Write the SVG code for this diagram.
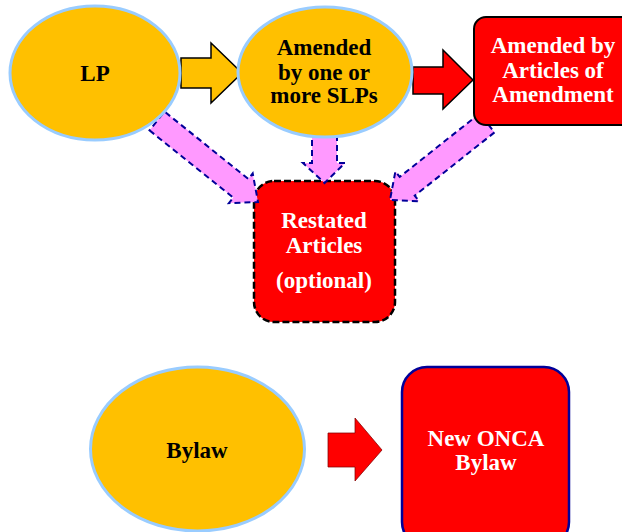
<svg xmlns="http://www.w3.org/2000/svg" width="622" height="532" viewBox="0 0 622 532">
<style>
.ell{fill:#ffc000;stroke:#99ccff;stroke-width:3}
.tb{font-family:"Liberation Serif","Times New Roman",serif;font-weight:bold;font-size:23px;text-anchor:middle}
.blk{fill:#000}
.wht{fill:#fff}
.pink{fill:#ff99ff;stroke:#000099;stroke-width:2;stroke-dasharray:6,4}
</style>
<rect width="622" height="532" fill="#fff"/>
<g id="restated">
<rect x="254" y="181" width="141" height="141" rx="20" fill="#ff0000" stroke="#000" stroke-width="2.5" stroke-dasharray="7,3"/>
<text class="tb wht" x="324" y="228">Restated</text>
<text class="tb wht" x="324" y="253">Articles</text>
<text class="tb wht" x="324" y="288">(optional)</text>
</g>
<g id="connectors">
<polygon class="pink" points="149.5,130.4 233.3,197.6 228.9,203.1 258,202 252.7,173.4 248.3,178.9 164.5,111.6"/>
<polygon class="pink" points="312,130 337,130 337,163 345,163 324.5,183 303,163 312,163"/>
<polygon class="pink" points="494.5,132.4 414.7,195.7 419,201.2 390,200 395.4,171.4 399.7,176.9 479.5,113.6"/>
<polygon points="181,58 211,58 211,43 242,73 211,103 211,88 181,88" fill="#ffc000" stroke="#000" stroke-width="1.5"/>
<polygon points="413,67 443,67 443,50 473,80 443,109 443,94 413,94" fill="#ff0000" stroke="#000" stroke-width="1.5"/>
<polygon points="328,433 355,433 355,418 382,450 355,481 355,467 328,467" fill="#ff0000" stroke="#800000" stroke-width="0.75"/>
</g>
<g id="lp">
<ellipse class="ell" cx="95" cy="73" rx="85" ry="67"/>
<text class="tb blk" x="95" y="81">LP</text>
</g>
<g id="amended-slp">
<ellipse class="ell" cx="325" cy="72" rx="87" ry="65"/>
<text class="tb blk" x="324" y="55">Amended</text>
<text class="tb blk" x="324" y="80">by one or</text>
<text class="tb blk" x="324" y="103">more SLPs</text>
</g>
<g id="amended-articles">
<rect x="474" y="17" width="160" height="108" rx="12" fill="#ff0000" stroke="#000" stroke-width="2"/>
<text class="tb wht" x="553" y="53">Amended by</text>
<text class="tb wht" x="553" y="78">Articles of</text>
<text class="tb wht" x="553" y="102">Amendment</text>
</g>
<g id="bylaw">
<ellipse class="ell" cx="197.5" cy="449" rx="107" ry="82"/>
<text class="tb blk" x="197" y="458">Bylaw</text>
</g>
<g id="onca">
<rect x="402" y="367" width="167" height="180" rx="25" fill="#ff0000" stroke="#000099" stroke-width="2.5"/>
<text class="tb wht" x="486" y="446">New ONCA</text>
<text class="tb wht" x="486" y="470">Bylaw</text>
</g>
</svg>
